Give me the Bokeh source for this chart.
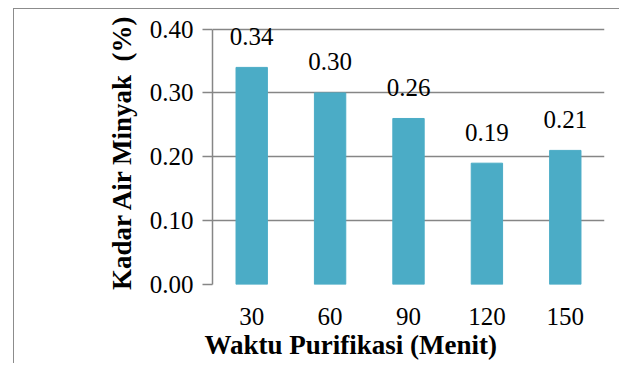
from bokeh.plotting import figure
from bokeh.models import Title, FixedTicker, NumeralTickFormatter, Range1d
from bokeh.core.properties import value
from bokeh.embed import file_html
from bokeh.resources import INLINE

categories = ["30", "60", "90", "120", "150"]
values = [0.34, 0.30, 0.26, 0.19, 0.21]
value_labels = ["0.34", "0.30", "0.26", "0.19", "0.21"]
y_ticks = [0.0, 0.1, 0.2, 0.3, 0.4]

x_title = "Waktu Purifikasi (Menit)"
y_title = "Kadar Air Minyak\u00a0\u00a0(%)"

FONT = "Liberation Serif"
GRAY = "#868686"
BAR = "#4BACC6"

p = figure(x_range=categories, y_range=Range1d(0, 0.415),
           width=606, height=355, output_backend="svg", toolbar_location=None,
           min_border_left=198, min_border_top=10, min_border_right=16, min_border_bottom=80)
p.margin = (8, 0, 0, 13)
p.styles = {"border-left": "1.5px solid #8c8c8c", "border-top": "1.5px solid #8c8c8c"}
p.outline_line_color = None
p.background_fill_color = "white"
p.border_fill_color = "white"

p.vbar(x=categories, top=values, width=0.4, color=BAR)
p.text(x=categories, y=values, text=value_labels, y_offset=-31,
       text_align="center", text_baseline="alphabetic",
       text_font=value(FONT), text_font_size="25px", text_color="black")

# grid
p.xgrid.grid_line_color = None
p.ygrid.grid_line_color = GRAY
p.ygrid.grid_line_width = 1.5
p.ygrid.ticker = FixedTicker(ticks=y_ticks)

# y axis
ya = p.yaxis[0]
ya.ticker = FixedTicker(ticks=y_ticks)
ya.bounds = (0, 0.4)
ya.formatter = NumeralTickFormatter(format="0.00")
ya.axis_line_color = GRAY
ya.axis_line_width = 1.5
ya.major_tick_line_color = GRAY
ya.major_tick_line_width = 1.5
ya.major_tick_out = 10
ya.major_tick_in = 0
ya.minor_tick_line_color = None
ya.major_label_standoff = 9
ya.major_label_text_font = FONT
ya.major_label_text_font_size = "25px"
ya.major_label_text_color = "black"
ya.axis_label = y_title
ya.axis_label_text_font = FONT
ya.axis_label_text_font_style = "bold"
ya.axis_label_text_font_size = "27px"
ya.axis_label_text_color = "black"
ya.axis_label_standoff = 10

# x axis
xa = p.xaxis[0]
xa.axis_line_color = None
xa.major_tick_line_color = None
xa.minor_tick_line_color = None
xa.major_tick_out = 0
xa.major_label_standoff = 23
xa.major_label_text_font = FONT
xa.major_label_text_font_size = "25px"
xa.major_label_text_color = "black"

p.add_layout(Title(text=x_title, align="left", offset=-8, standoff=0,
                   text_font=FONT, text_font_style="bold", text_font_size="27px",
                   text_color="black"), "below")

open("out.html", "w").write(file_html(p, INLINE))
